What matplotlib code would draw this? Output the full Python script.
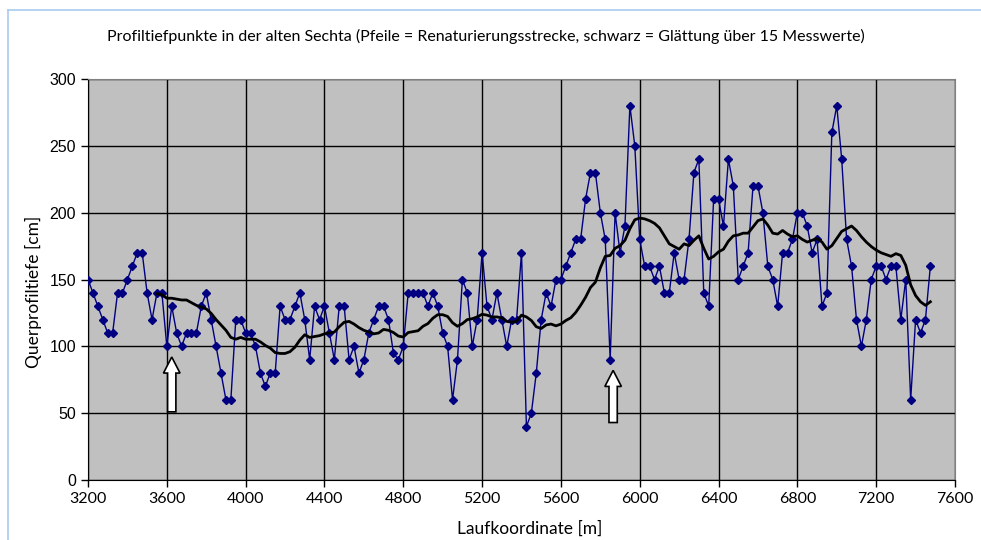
import matplotlib.pyplot as plt
import matplotlib.lines as mlines
from matplotlib.patches import FancyArrow
import numpy as np
import pandas as pd

# Messwerte alle 25 m, von 3200 bis 7475
start = 3200
schritt = 25
tiefe = [
    150, 140, 130, 120, 110, 110, 140, 140, 150, 160, 170, 170, 140, 120, 140, 140,   # 3200-3575
    100, 130, 110, 100, 110, 110, 110, 130, 140, 120, 100, 80, 60, 60, 120, 120,       # 3600-3975
    110, 110, 100, 80, 70, 80, 80, 130, 120, 120, 130, 140, 120, 90, 130, 120,         # 4000-4375
    130, 110, 90, 130, 130, 90, 100, 80, 90, 110, 120, 130, 130, 120, 95, 90,          # 4400-4775
    100, 140, 140, 140, 140, 130, 140, 130, 110, 100, 60, 90, 150, 140, 100, 120,      # 4800-5175
    170, 130, 120, 140, 120, 100, 120, 120, 170, 40, 50, 80, 120, 140, 130, 150,       # 5200-5575
    150, 160, 170, 180, 180, 210, 230, 230, 200, 180, 90, 200, 170, 190, 280, 250,     # 5600-5975
    180, 160, 160, 150, 160, 140, 140, 170, 150, 150, 180, 230, 240, 140, 130, 210,    # 6000-6375
    210, 190, 240, 220, 150, 160, 170, 220, 220, 200, 160, 150, 130, 170, 170, 180,    # 6400-6775
    200, 200, 190, 170, 180, 130, 140, 260, 280, 240, 180, 160, 120, 100, 120, 150,    # 6800-7175
    160, 160, 150, 160, 160, 120, 150, 60, 120, 110, 120, 160,                         # 7200-7475
]
lauf = [start + i * schritt for i in range(len(tiefe))]

# Glaettung ueber 15 Messwerte (gleitender Mittelwert)
fenster = 15
glatt = pd.Series(tiefe).rolling(fenster).mean()

# Renaturierungsstrecke (Pfeile): Position, von, bis
pfeil_x = [3625, 5865]
pfeil_von = [51, 43]
pfeil_bis = [92, 82]

titel = 'Profiltiefpunkte in der alten Sechta (Pfeile = Renaturierungsstrecke, schwarz = Glättung über 15 Messwerte)'

fig = plt.figure(figsize=(9.81, 5.40), dpi=100)
ax = fig.add_axes([88 / 981, 60 / 540, 867 / 981, 401 / 540])
ax.set_facecolor('#c0c0c0')

ax.plot(lauf, tiefe, color='#000080', lw=1, marker='D', ms=4.5, zorder=3)
ax.plot(lauf, glatt, color='black', lw=2, zorder=4)

for x, y0, y1 in zip(pfeil_x, pfeil_von, pfeil_bis):
    ax.add_patch(FancyArrow(x, y0, 0, y1 - y0, width=42, head_width=84, head_length=12,
                            length_includes_head=True, fc='white', ec='black', lw=1.2, zorder=5))

ax.set_xlim(3200, 7600)
ax.set_ylim(0, 300)
ax.set_xticks(np.arange(3200, 7601, 400))
ax.set_yticks(np.arange(0, 301, 50))
ax.grid(True, color='black', lw=1)
ax.set_axisbelow(True)
for s in ax.spines.values():
    s.set_color('#808080')
ax.spines['left'].set_color('black')
ax.spines['bottom'].set_color('black')
ax.tick_params(direction='out', length=5, width=1, colors='black')
for lab in ax.get_xticklabels():
    lab.set_fontfamily('Lato')
    lab.set_fontsize(11.5)
for lab in ax.get_yticklabels():
    lab.set_fontfamily('Liberation Sans')
    lab.set_fontsize(11.5)

ax.set_xlabel('Laufkoordinate [m]', fontfamily='Lato', fontsize=12.5, va='center')
ax.xaxis.set_label_coords(0.51, -0.122)
ax.set_ylabel('Querprofiltiefe [cm]', fontfamily='Lato', fontsize=12.5, va='center')
ax.yaxis.set_label_coords(-0.0634, 0.468)
fig.text(486 / 981, 1 - 36 / 540, titel, ha='center', va='center', fontfamily='Lato', fontsize=11.5)

# heller Rahmen oben und links
fig.add_artist(mlines.Line2D([8 / 981, 1], [1 - 10 / 540] * 2, color='#a8ccf0', lw=1.2))
fig.add_artist(mlines.Line2D([8 / 981] * 2, [0, 1 - 10 / 540], color='#a8ccf0', lw=1.2))

fig.savefig('out.png', dpi=100)
